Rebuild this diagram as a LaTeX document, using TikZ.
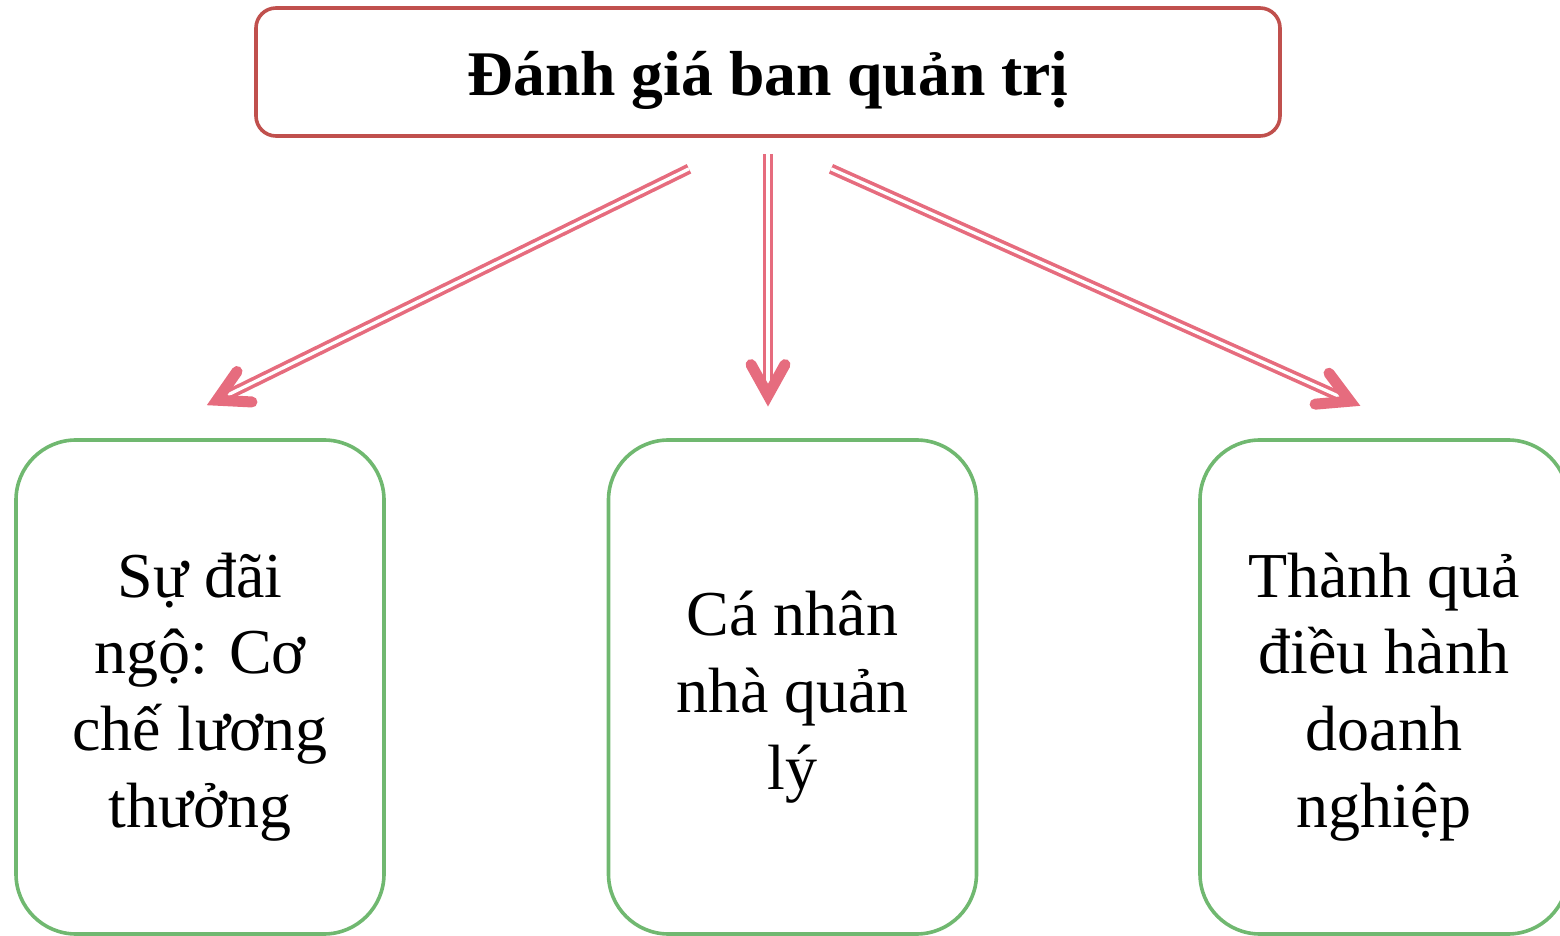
\documentclass[tikz,border=0pt]{standalone}
\usepackage{fontspec}
\setmainfont{Liberation Serif}
\usetikzlibrary{calc}
\definecolor{headred}{RGB}{192,80,77}
\definecolor{boxgreen}{RGB}{112,184,112}
\definecolor{arrowpink}{RGB}{230,108,126}
\tikzset{
  headbox/.style={draw=headred, line width=1.8pt, rounded corners=10pt,
    minimum width=512pt, minimum height=64pt, inner sep=0pt},
  headtext/.style={inner sep=0pt, font=\fontsize{31.8}{38}\selectfont\bfseries},
  itembox/.style={draw=boxgreen, line width=1.8pt, rounded corners=30pt,
    minimum width=184pt, minimum height=247pt, inner sep=0pt},
  itemtext/.style={inner sep=0pt, align=center, font=\fontsize{32}{38.4}\selectfont},
  shaft/.style={draw=arrowpink, line width=1.8pt, double=white, double distance=1.6pt},
  barb/.style={draw=arrowpink, line width=5.5pt, line cap=round, line join=miter},
}
\begin{document}
\begin{tikzpicture}[x=0.5pt,y=-0.5pt]
\useasboundingbox (0,0) rectangle (1560,936);

% boxes
\node[headbox] (head) at (768,72) {};
\node[itembox] (left)  at (200,687)   {};
\node[itembox] (mid)   at (792.5,687) {};
\node[itembox] (right) at (1384,687)  {};

% box texts
\node[headtext] (headlbl) at ($(head.center)+(0,8)$) {Đánh giá ban quản trị};
\node[itemtext] (leftlbl)  at ($(left.center)+(0,10)$)  {Sự đãi\\ngộ: Cơ\\chế lương\\thưởng};
\node[itemtext] (midlbl)   at ($(mid.center)+(0,10)$)   {Cá nhân\\nhà quản\\lý};
\node[itemtext] (rightlbl) at ($(right.center)+(0,10)$) {Thành quả\\điều hành\\doanh\\nghiệp};

% arrow ends
\coordinate (s1) at ($(head.south)+(-79,31)$);
\coordinate (s2) at ($(head.south)+(0,16)$);
\coordinate (s3) at ($(head.south)+(63,31)$);
\coordinate (t1) at ($(left.north)+(17,-38)$);
\coordinate (t2) at ($(mid.north)+(-24.5,-43)$);
\coordinate (t3) at ($(right.north)+(-34,-37)$);

% double shafts with open chevron heads
\foreach \i in {1,2,3}{
  \draw[shaft] (s\i) -- ($(t\i)!5pt!(s\i)$);
  \draw[barb] ($(t\i)!17.5pt!29:(s\i)$) -- (t\i) -- ($(t\i)!17.5pt!-29:(s\i)$);
}
\end{tikzpicture}
\end{document}
